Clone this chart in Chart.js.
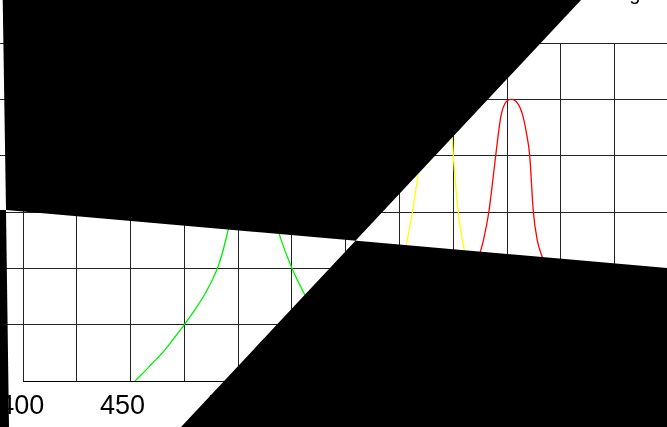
<!DOCTYPE html>
<html>
<head>
<meta charset="utf-8">
<script src="https://cdn.jsdelivr.net/npm/chart.js@4/dist/chart.umd.min.js"></script>
<style>
  html, body { margin:0; padding:0; width:667px; height:427px; overflow:hidden; background:#fff; }
  #wrap { position:absolute; left:-100px; top:0; width:800px; height:427px; }
  .occ { position:absolute; left:0; top:0; width:667px; height:427px; background:#000; }
</style>
</head>
<body>
<div id="wrap"><canvas id="c" width="800" height="427" style="width:800px;height:427px"></canvas></div>
<div class="occ" style="clip-path:polygon(2.7px 0px, 581px 0px, 181px 427px, 667px 427px, 667px 268px, 6px 210px);"></div>
<div class="occ" style="clip-path:polygon(0px 210px, 6px 210px, 9px 427px, 0px 427px);"></div>
<script>
// ---- data ----
const xTickLabels = [400, 450, 500, 550, 600, 650, 700];
const greenNm  = [452, 455, 460, 465, 470, 475, 480, 485, 490, 492.5, 495, 500, 505, 510, 515, 520, 525, 530, 535, 540, 545, 550, 555, 560, 570, 580, 590];
const greenVal = [0, 0.022, 0.062, 0.102, 0.15, 0.2, 0.254, 0.315, 0.393, 0.45, 0.525, 0.68, 0.77, 0.74, 0.63, 0.5, 0.4, 0.32, 0.25, 0.19, 0.14, 0.1, 0.07, 0.05, 0.02, 0.005, 0];
const yellowNm  = [555, 560, 565, 570, 574, 578, 581, 584, 587, 590, 593, 595, 597, 599, 600, 602, 604, 606, 608, 611, 615, 620, 625, 630, 640];
const yellowVal = [0, 0.03, 0.08, 0.17, 0.29, 0.476, 0.6, 0.75, 0.87, 0.95, 0.99, 1.0, 0.98, 0.91, 0.8, 0.62, 0.51, 0.43, 0.35, 0.25, 0.15, 0.07, 0.03, 0.01, 0];
const redNm  = [598, 603, 606, 608, 610, 612, 614, 616.5, 618, 619.7, 622, 624, 627, 630, 632, 634, 635.5, 637.2, 639, 641.8, 644, 648, 652, 656, 660, 670];
const redVal = [0, 0.02, 0.08, 0.2, 0.35, 0.44, 0.5, 0.6, 0.69, 0.8, 0.935, 0.985, 1.0, 0.985, 0.95, 0.88, 0.8, 0.6, 0.5, 0.43, 0.37, 0.23, 0.12, 0.05, 0.02, 0];
const topText = 'Wavelength';

const pts = (xs, ys) => xs.map((x, i) => ({ x: x, y: ys[i] }));

const textPlugin = {
  id: 'topText',
  afterDraw(chart) {
    const c = chart.ctx;
    c.save();
    c.font = '20px "Liberation Sans", Arial, sans-serif';
    c.fillStyle = '#000';
    c.textAlign = 'right';
    c.textBaseline = 'alphabetic';
    c.fillText(topText, 757, -0.5);
    c.restore();
  }
};

const lineDs = (label, xs, ys, color) => ({
  label: label,
  data: pts(xs, ys),
  borderColor: color,
  borderWidth: 1.3,
  pointRadius: 0,
  fill: false,
  cubicInterpolationMode: 'monotone'
});

new Chart(document.getElementById('c'), {
  type: 'line',
  data: {
    datasets: [
      lineDs('Green', greenNm, greenVal, '#00f000'),
      lineDs('Yellow', yellowNm, yellowVal, '#ffff00'),
      lineDs('Red', redNm, redVal, '#ff0000')
    ]
  },
  options: {
    responsive: false,
    animation: false,
    devicePixelRatio: 1,
    layout: { padding: { top: 43, right: 30, left: 0, bottom: 0 } },
    plugins: { legend: { display: false }, tooltip: { enabled: false }, title: { display: false } },
    scales: {
      x: {
        type: 'linear', min: 400, max: 700,
        ticks: {
          stepSize: 25, autoSkip: false, maxRotation: 0, minRotation: 0,
          callback: v => xTickLabels.includes(v) ? (v === 400 ? '\u2002' + v : String(v)) : '',
          font: { size: 27, family: '"Liberation Sans", Arial, sans-serif' },
          color: '#000', labelOffset: -8, padding: 9
        },
        grid: { color: '#222', lineWidth: 1, drawTicks: false },
        border: { color: '#000' },
        afterFit: s => { s.height = 46; }
      },
      y: {
        min: 0, max: 1.2,
        ticks: { stepSize: 0.2, display: false },
        grid: {
          color: '#222', lineWidth: 1, tickLength: 30,
          tickColor: c => (c.tick && Math.abs(c.tick.value) < 1e-9) ? 'rgba(0,0,0,0)' : '#222'
        },
        border: { color: '#222' },
        afterFit: s => { s.width = 123; }
      }
    }
  },
  plugins: [textPlugin]
});
</script>
</body>
</html>
